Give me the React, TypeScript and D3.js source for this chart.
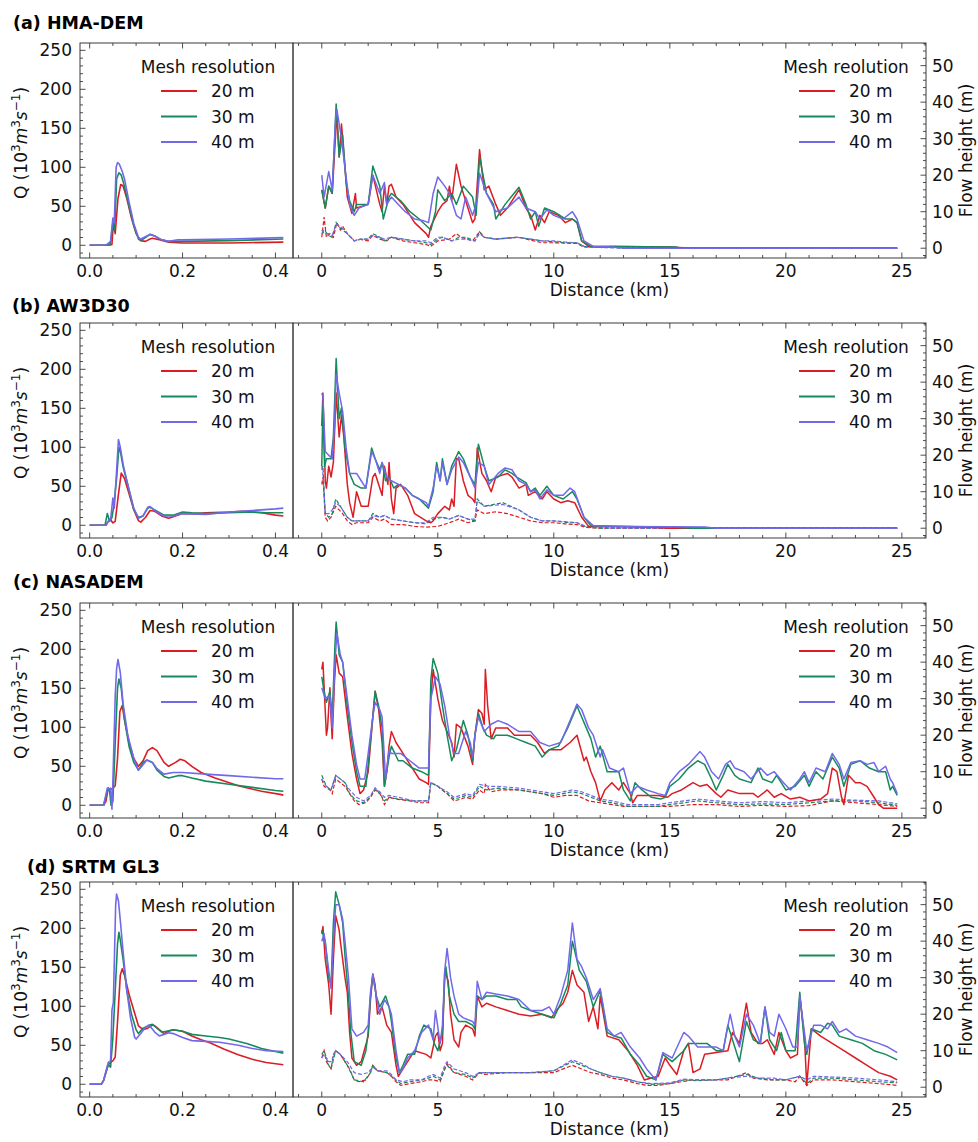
import React from 'react';
import * as d3 from 'd3';

type P = [number, number][];

// ---------- Left panels: Q (10^3 m^3/s) vs x ----------
const aQ20: P = [[0,0],[0.03,0],[0.045,0.5],[0.048,1],[0.051,28],[0.055,15],[0.061,60],[0.067,78],[0.072,76],[0.08,60],[0.09,35],[0.1,15],[0.11,6],[0.12,5],[0.13,8],[0.135,9],[0.15,7],[0.17,4],[0.2,3],[0.3,3],[0.417,4]];
const aQ30: P = [[0,0],[0.035,0],[0.045,2],[0.05,30],[0.054,20],[0.058,85],[0.063,93],[0.068,90],[0.073,80],[0.085,50],[0.095,25],[0.105,8],[0.11,6],[0.12,10],[0.13,14],[0.14,12],[0.155,7],[0.17,5],[0.2,5],[0.3,6],[0.417,8]];
const aQ40: P = [[0,0],[0.035,0],[0.045,5],[0.05,35],[0.053,30],[0.057,100],[0.06,106],[0.064,104],[0.07,95],[0.075,85],[0.085,55],[0.095,28],[0.105,10],[0.11,8],[0.12,11],[0.13,14],[0.14,12],[0.155,7],[0.17,5],[0.19,7],[0.2,7],[0.3,8],[0.417,10]];

const bQ20: P = [[0,0],[0.035,0],[0.04,5],[0.044,8],[0.05,3],[0.055,5],[0.062,40],[0.068,67],[0.075,60],[0.085,40],[0.095,20],[0.105,6],[0.11,4],[0.12,10],[0.13,19],[0.14,18],[0.155,12],[0.17,9],[0.18,11],[0.2,15],[0.23,15],[0.25,16],[0.3,17],[0.33,18],[0.37,16],[0.4,13],[0.417,12]];
const bQ30: P = [[0,0],[0.033,0],[0.038,15],[0.043,5],[0.048,10],[0.052,25],[0.058,60],[0.063,100],[0.066,95],[0.072,75],[0.085,45],[0.095,20],[0.105,10],[0.115,12],[0.125,22],[0.13,23],[0.145,18],[0.16,13],[0.18,13],[0.2,17],[0.22,16],[0.25,15],[0.3,16],[0.35,17],[0.38,16],[0.417,16]];
const bQ40: P = [[0,0],[0.035,0],[0.04,5],[0.045,7],[0.05,35],[0.053,22],[0.058,70],[0.062,110],[0.066,100],[0.073,75],[0.085,45],[0.095,22],[0.105,9],[0.115,12],[0.125,23],[0.13,24],[0.145,17],[0.16,12],[0.18,12],[0.2,15],[0.25,14],[0.3,17],[0.35,19],[0.4,21],[0.417,22]];

const cQ20: P = [[0,0],[0.03,0],[0.035,5],[0.04,22],[0.045,20],[0.05,22],[0.055,25],[0.06,60],[0.065,120],[0.07,128],[0.075,110],[0.085,80],[0.095,60],[0.105,50],[0.115,57],[0.125,70],[0.135,74],[0.145,70],[0.16,55],[0.17,50],[0.185,55],[0.195,59],[0.205,57],[0.22,50],[0.24,42],[0.27,35],[0.32,25],[0.37,18],[0.41,14],[0.417,13]];
const cQ30: P = [[0,0],[0.03,0],[0.04,22],[0.043,18],[0.046,0],[0.05,5],[0.055,80],[0.06,150],[0.063,162],[0.068,150],[0.075,110],[0.085,75],[0.095,55],[0.105,45],[0.115,55],[0.123,58],[0.135,55],[0.145,45],[0.16,37],[0.17,35],[0.19,38],[0.2,38],[0.22,35],[0.25,31],[0.3,27],[0.35,23],[0.4,19],[0.417,18]];
const cQ40: P = [[0,0],[0.03,0],[0.038,22],[0.043,20],[0.045,22],[0.048,-5],[0.05,30],[0.055,140],[0.058,175],[0.061,187],[0.066,170],[0.072,130],[0.082,90],[0.095,60],[0.105,45],[0.115,52],[0.123,58],[0.135,55],[0.145,47],[0.16,40],[0.18,42],[0.2,42],[0.25,40],[0.3,38],[0.35,36],[0.4,34],[0.417,34]];

const dQ20: P = [[0,0],[0.025,0],[0.03,5],[0.04,25],[0.045,28],[0.05,30],[0.055,35],[0.06,80],[0.066,140],[0.07,148],[0.075,140],[0.085,115],[0.095,95],[0.105,75],[0.115,70],[0.125,72],[0.135,76],[0.14,75],[0.15,70],[0.16,65],[0.17,68],[0.18,70],[0.2,68],[0.22,62],[0.24,57],[0.26,53],[0.29,45],[0.32,38],[0.35,32],[0.38,28],[0.417,25]];
const dQ30: P = [[0,0],[0.025,0],[0.03,5],[0.04,25],[0.045,22],[0.05,60],[0.055,120],[0.06,180],[0.063,195],[0.066,185],[0.072,160],[0.08,120],[0.09,90],[0.1,70],[0.105,65],[0.115,72],[0.13,76],[0.135,77],[0.145,72],[0.155,67],[0.165,68],[0.18,70],[0.2,68],[0.22,64],[0.25,62],[0.28,60],[0.3,58],[0.34,52],[0.37,46],[0.4,42],[0.417,40]];
const dQ40: P = [[0,0],[0.025,0],[0.03,5],[0.04,28],[0.045,30],[0.048,95],[0.051,105],[0.054,180],[0.056,230],[0.058,244],[0.062,235],[0.066,210],[0.072,170],[0.08,120],[0.088,85],[0.097,60],[0.1,58],[0.11,65],[0.12,73],[0.128,76],[0.14,67],[0.15,62],[0.16,64],[0.17,66],[0.18,65],[0.2,60],[0.22,56],[0.25,55],[0.28,54],[0.32,50],[0.35,46],[0.38,43],[0.417,42]];

// ---------- Right panels: solid lines vs distance (km), flow-height axis ----------
const aS20: P = [[0,16],[0.15,11],[0.3,17],[0.45,15],[0.65,37],[0.75,25],[0.85,34],[1.0,22],[1.1,14],[1.3,9.5],[1.45,15],[1.5,11],[2.0,12],[2.2,20],[2.5,12],[2.6,10],[2.7,17],[2.8,12],[2.9,17],[3.0,17.5],[3.2,14],[3.5,12],[4.0,7],[4.5,4],[4.6,3],[4.7,6],[5.0,10],[5.2,12],[5.4,13],[5.5,17],[5.6,13],[5.8,23],[6.0,17],[6.2,13],[6.5,7],[6.6,8],[6.8,27],[7.0,16],[7.2,17],[7.5,12],[7.7,9],[8.0,11],[8.5,16],[8.8,11],[9.0,9],[9.2,5],[9.4,9],[9.6,7],[9.8,10],[10.2,9],[10.5,7],[10.8,8],[11.0,7],[11.2,2],[11.5,0.5],[13,0.5],[15,0.3],[16,0],[24.8,0]];
const aS30: P = [[0,16],[0.15,11],[0.3,17],[0.45,15],[0.62,39.5],[0.75,25],[0.9,31],[1.05,18],[1.2,13],[1.4,10],[1.5,12],[2.0,12],[2.2,22.5],[2.5,17],[2.65,8],[2.9,14],[3.0,15],[3.4,13],[3.8,10],[4.2,8],[4.7,5],[4.9,10],[5.0,16],[5.3,13],[5.6,15],[5.8,12],[6.1,17],[6.5,14],[6.65,9],[6.8,25],[7.1,15],[7.4,12],[7.5,8],[7.9,12],[8.5,16.7],[8.8,12],[9.0,8],[9.2,10],[9.35,6],[9.6,11],[10,10],[10.5,8],[10.8,8],[11.0,7],[11.2,2],[11.6,0.5],[12.5,0.5],[15.3,0.3],[15.5,0],[24.8,0]];
const aS40: P = [[0,20],[0.1,14],[0.3,21],[0.45,16],[0.6,36],[0.65,38],[0.85,30],[1.0,22],[1.2,12],[1.4,9],[1.6,11],[2.0,12],[2.2,20],[2.5,15],[2.7,18],[2.8,12],[3.0,14],[3.3,12],[3.6,10],[4.0,8],[4.4,7.5],[4.6,7],[4.8,15],[5.0,19.5],[5.3,17],[5.5,15],[5.8,9],[6.0,8],[6.2,14],[6.5,9],[6.7,13],[6.8,20.5],[7.1,15],[7.5,10],[8.0,11],[8.5,14],[8.8,11],[9.2,10],[9.4,8],[9.7,10.5],[10.0,9],[10.4,8],[10.8,10],[11.0,8],[11.3,2],[11.7,0.5],[12.5,0.3],[13,0],[24.8,0]];
const bS20: P = [[0,28],[0.05,37],[0.15,13],[0.2,11],[0.3,17],[0.4,14],[0.5,18],[0.62,37],[0.75,25],[0.85,31],[0.95,25],[1.1,12],[1.2,7],[1.35,3],[1.5,10],[1.7,6],[2.0,6],[2.2,14],[2.3,15],[2.5,11],[2.6,9],[2.7,17],[2.85,12],[2.9,18],[3.0,8],[3.1,4],[3.2,11],[3.4,12],[3.7,9],[4.0,4],[4.5,2],[4.7,1.5],[4.8,2],[5.0,4],[5.3,6],[5.5,5],[5.6,8],[5.7,6],[5.8,19],[5.9,19],[6.1,13],[6.3,9],[6.5,8],[6.6,7],[6.7,22],[6.9,15],[7.1,13],[7.3,10],[7.5,14],[8.0,15],[8.2,14],[8.5,11],[8.8,12],[8.9,9],[9.2,10],[9.5,8],[9.7,10],[10,8],[10.3,7],[10.6,7.5],[10.9,7],[11.2,3],[11.5,0.5],[13,0.5],[14,0.3],[15,0],[24.8,0]];
const bS30: P = [[0,17],[0.05,34],[0.12,17],[0.2,19],[0.4,19],[0.5,25],[0.62,46.5],[0.75,30],[0.85,33],[1.0,22],[1.2,15],[1.4,12],[1.7,11],[1.9,11],[2.15,22],[2.3,19],[2.5,16],[2.6,18],[2.75,13],[2.9,14],[3.1,11],[3.3,12],[3.6,11],[3.9,9],[4.2,8],[4.6,5.5],[4.8,10],[4.95,18],[5.1,13],[5.2,19],[5.4,12],[5.6,17],[5.9,21],[6.1,19],[6.4,14],[6.6,12],[6.75,23],[7.0,17],[7.2,13],[7.6,14],[7.9,16],[8.2,15],[8.4,14],[8.8,12.5],[9.0,10],[9.2,11],[9.4,9],[9.7,11.5],[10,9],[10.4,8],[10.8,10],[11.0,8],[11.3,3],[11.6,0.7],[13,0.5],[15,0.3],[16,0],[24.8,0]];
const bS40: P = [[0,37],[0.05,36],[0.15,21],[0.3,20],[0.45,19],[0.55,28],[0.62,42],[0.75,37],[0.9,32],[1.05,22],[1.2,15],[1.5,15],[1.7,13],[1.9,11],[2.15,21],[2.3,19],[2.5,15],[2.6,18],[2.8,14],[3.0,13],[3.3,12],[3.6,11],[3.9,9],[4.2,8],[4.5,7],[4.6,6],[4.8,11],[4.95,17],[5.1,13],[5.2,18],[5.4,12],[5.6,16],[5.9,19.5],[6.1,18],[6.4,14],[6.6,11],[6.75,18],[7.0,17],[7.2,12],[7.6,15],[7.9,16.5],[8.2,16],[8.5,13],[8.8,12],[9.0,10],[9.2,10.5],[9.4,8],[9.7,10.5],[10,9],[10.4,9],[10.7,11],[10.9,10],[11.3,3],[11.7,0.7],[13,0.5],[15,0.4],[16.5,0.3],[17,0],[24.8,0]];
const cS20: P = [[0,38],[0.05,40],[0.2,20],[0.25,22],[0.35,33],[0.4,25],[0.45,19],[0.55,35],[0.62,42],[0.75,37],[0.9,36],[1.1,25],[1.3,15],[1.5,8],[1.65,4],[1.8,5],[2.0,10],[2.2,25],[2.3,32],[2.45,27],[2.6,18],[2.7,6],[2.8,10],[2.9,17],[3.0,21],[3.2,18],[3.5,15],[3.8,12],[4.2,8],[4.5,7],[4.6,6.5],[4.7,30],[4.8,38],[5.0,30],[5.2,24],[5.4,21],[5.6,18],[5.7,14],[5.8,23],[6.0,22],[6.3,17],[6.5,12],[6.6,20],[6.75,27],[6.9,26],[7.0,23],[7.05,38],[7.15,28],[7.3,19],[7.5,22],[8.0,22],[8.3,20],[8.6,20],[9,20],[9.3,18],[9.6,15],[9.8,16],[10.3,16],[10.7,18],[11.0,20],[11.3,13],[11.4,14],[11.6,10],[11.8,7],[12.0,2],[12.2,5],[12.5,7],[12.8,5],[13.0,7],[13.3,4],[13.4,1.5],[13.6,3.5],[14.5,3.5],[14.9,3],[15.1,4],[15.5,5],[16.0,7],[16.3,6],[16.6,6.5],[17.0,4],[17.2,3],[17.5,5],[18.0,4],[18.6,4],[18.8,3],[19.2,5],[19.5,3],[19.8,4],[20.2,2.5],[20.6,3],[21.0,2],[21.5,2.5],[21.8,4],[22.0,11],[22.2,10],[22.4,3],[22.5,1],[22.7,9],[23.0,7],[23.2,7],[23.5,6],[23.8,3],[24.0,1],[24.2,0],[24.8,0]];
const cS30: P = [[0,36],[0.1,32],[0.2,29],[0.35,32],[0.45,25],[0.57,45],[0.62,51],[0.75,42],[0.9,40],[1.1,28],[1.3,18],[1.5,10],[1.65,6],[1.9,6],[2.0,12],[2.2,25],[2.3,32],[2.45,28],[2.6,22],[2.7,6],[2.9,14],[3.0,17],[3.3,13],[3.5,13],[3.9,11],[4.3,10],[4.6,9],[4.7,35],[4.8,41],[5.0,37],[5.2,28],[5.4,20],[5.6,13],[5.8,16],[6.1,24],[6.3,20],[6.5,13],[6.6,20],[6.75,26],[6.95,22],[7.1,20],[7.4,19],[7.5,20],[8.0,20],[8.4,19],[8.8,18],[9.2,17],[9.5,14],[9.8,16],[10.2,17],[10.6,22],[11.0,28],[11.2,25],[11.4,22],[11.6,19],[11.8,14],[12.0,17],[12.3,10],[12.6,10],[12.8,10],[13.0,5],[13.3,2],[13.5,7],[13.8,5],[14.2,3],[14.6,2.5],[14.8,3],[15.0,6],[15.4,8],[15.8,11],[16.2,13],[16.5,12],[16.8,8],[17.0,5],[17.3,9],[17.5,12],[17.8,9],[18.0,8],[18.5,7],[18.8,11],[19.0,8],[19.4,7],[19.6,9],[20.0,5],[20.4,6],[20.8,9],[21.0,6],[21.3,10],[21.6,8],[22.0,14],[22.3,11],[22.5,6],[22.8,12],[23.2,13],[23.6,11],[24.0,10],[24.3,10],[24.5,5],[24.6,6],[24.8,3.5]];
const cS40: P = [[0,33],[0.15,30],[0.35,31],[0.45,22],[0.57,40],[0.65,48],[0.8,42],[0.9,40],[1.1,30],[1.3,20],[1.5,12],[1.65,8],[1.85,8],[2.0,15],[2.2,25],[2.3,29],[2.5,27],[2.6,25],[2.75,8],[2.9,16],[3.0,15],[3.4,15],[3.8,13],[4.2,11],[4.6,11],[4.7,30],[4.9,36],[5.1,34],[5.3,28],[5.5,20],[5.7,15],[5.9,15],[6.2,21],[6.4,18],[6.5,14],[6.6,20],[6.75,25],[7.0,21],[7.3,23],[7.6,24],[8.0,23],[8.5,21],[9,21],[9.4,18],[9.8,17],[10.3,18],[10.7,24],[11.0,28.5],[11.2,27],[11.5,22],[11.7,20],[12.0,14],[12.1,16],[12.4,11],[12.8,10],[13.0,11],[13.3,4],[13.6,6],[14.0,5],[14.5,4],[14.8,3.5],[15.0,7],[15.4,10],[15.8,12],[16.3,15.5],[16.5,14],[16.8,10],[17.1,8],[17.4,12],[17.6,13],[17.8,11],[18.2,10],[18.5,8],[18.9,11],[19.2,9],[19.5,10],[19.9,7],[20.2,5],[20.6,8],[20.8,10],[21.0,7],[21.3,11],[21.7,10],[22.0,15],[22.3,12],[22.5,8],[22.8,12.5],[23.2,13],[23.5,12],[23.8,12.5],[24.0,10],[24.3,11.5],[24.5,8],[24.6,7],[24.8,4]];
const dS20: P = [[0,42],[0.05,44],[0.15,35],[0.3,28],[0.4,20],[0.5,35],[0.6,47],[0.75,43],[0.8,40],[1.0,30],[1.1,26],[1.2,15],[1.3,8],[1.5,6],[1.7,7],[2.0,14],[2.1,24],[2.2,31],[2.3,28],[2.4,20],[2.6,22],[2.8,17],[3.0,15],[3.2,6],[3.3,3],[3.5,5],[3.7,7],[4.0,10],[4.5,9],[4.7,8],[4.9,14],[5.0,15],[5.1,10],[5.2,12],[5.3,32],[5.45,29],[5.55,20],[5.7,13],[5.9,11],[6.0,15],[6.2,17],[6.5,16],[6.6,14],[6.7,25],[6.9,22],[7.1,23],[7.5,22],[8.0,21],[8.5,20],[9.0,19.5],[9.5,20],[9.9,19],[10.1,21],[10.4,23],[10.6,26],[10.8,32],[11.0,28],[11.3,26],[11.5,18],[11.7,22],[11.9,16],[12.0,25],[12.3,14],[12.8,13],[13.2,10],[13.6,6],[13.9,2],[14.2,2.5],[14.5,3],[14.8,8],[15.0,6],[15.3,3.5],[15.6,10],[15.8,12],[16.0,4],[16.3,5],[16.5,9],[17.0,9.5],[17.5,10],[17.7,15],[18.0,12],[18.3,23],[18.5,15],[18.8,12],[19.0,12],[19.2,13],[19.5,9],[19.7,15],[20.0,10],[20.2,8],[20.5,9],[20.6,25],[20.8,14],[20.9,0.5],[21.1,16],[21.5,14],[22.0,12],[22.5,10],[23.0,8],[23.5,6],[24.0,4],[24.5,3],[24.8,2]];
const dS30: P = [[0,43],[0.15,40],[0.3,30],[0.4,28],[0.5,45],[0.6,53.5],[0.75,50],[0.9,45],[1.0,36],[1.15,25],[1.25,15],[1.4,7],[1.7,6],[1.9,10],[2.0,15],[2.1,25],[2.2,30.5],[2.35,25],[2.5,22],[2.75,25],[2.9,22],[3.0,18],[3.2,8],[3.35,4],[3.5,6],[3.7,9],[4.0,9],[4.2,14],[4.4,17],[4.7,16],[4.85,12],[5.0,10],[5.2,15],[5.3,30],[5.35,33],[5.5,25],[5.7,20],[5.9,18],[6.2,18],[6.5,17],[6.6,16],[6.7,25],[6.9,24],[7.1,25],[7.5,25],[8.0,24],[8.4,24],[8.6,22],[9.0,21],[9.5,20],[10.0,19],[10.3,23],[10.6,28],[10.8,40],[11.1,32],[11.4,29],[11.7,22],[12.0,26.5],[12.3,15],[12.6,14],[12.9,13.5],[13.3,9],[13.7,6],[14.0,3],[14.4,2],[14.7,9],[15.1,7],[15.6,10],[15.8,12],[16.2,12],[16.6,12],[17.0,10],[17.3,10],[17.5,17],[17.7,13],[18.0,7],[18.3,18],[18.6,13],[18.9,12],[19.1,22],[19.3,13],[19.6,10],[19.8,15],[20.0,10],[20.4,10],[20.6,26],[20.8,12],[20.9,9],[21.1,16],[21.5,15],[21.8,17.5],[22.0,17],[22.3,14],[22.8,13],[23.3,12],[23.8,10],[24.3,9],[24.8,7.5]];
const dS40: P = [[0,40],[0.1,42],[0.3,32],[0.4,27],[0.5,40],[0.6,50],[0.75,50],[0.9,46],[1.0,40],[1.15,30],[1.3,16],[1.5,14],[1.8,15],[2.0,17],[2.1,26],[2.2,31],[2.35,25],[2.5,20],[2.7,24],[2.9,22],[3.0,20],[3.2,10],[3.35,4],[3.5,5],[3.7,8],[4.0,10],[4.3,15],[4.6,17],[4.8,13],[4.9,21],[5.1,12],[5.2,17],[5.3,32],[5.4,38],[5.55,30],[5.7,25],[5.9,20],[6.1,19],[6.5,18],[6.6,17],[6.7,29],[6.9,24],[7.1,26],[7.5,25.5],[8.0,25],[8.5,24],[9.0,21],[9.5,21],[9.8,22],[10.0,20],[10.3,25],[10.6,32],[10.8,45],[11.0,35],[11.2,33],[11.4,30],[11.7,24],[12.0,27],[12.3,16],[12.6,14],[12.9,15],[13.3,11],[13.7,8],[14.0,5],[14.4,2],[14.7,9.5],[15.1,8],[15.6,15],[15.8,14],[16.2,11],[16.6,11],[17.0,11],[17.3,10],[17.6,20],[17.8,14],[18.0,11],[18.3,20],[18.6,17],[18.9,12],[19.1,22],[19.3,15],[19.5,14],[19.7,20],[20.0,16],[20.3,11],[20.5,11],[20.6,25],[20.8,15],[20.9,10],[21.2,17],[21.5,17],[21.8,16],[22.0,18],[22.3,15],[22.6,16],[23.0,14],[23.5,13],[24.0,12],[24.4,11],[24.8,9.5]];

// ---------- Right panels: dashed lines (flow height, m) ----------
const aD20: P = [[0,3],[0.1,8.5],[0.2,3],[0.35,4],[0.5,3],[0.65,7],[0.8,5],[0.9,6],[1.1,4],[1.4,2],[1.6,2.5],[2.0,2],[2.2,3.5],[2.5,2.5],[2.8,2],[3.0,3],[3.5,2],[4.0,1.5],[4.5,1],[4.7,0.5],[5.0,2],[5.5,2.5],[5.8,4],[6.0,3],[6.5,2],[6.8,4.5],[7.0,3],[7.5,2.5],[8.5,3],[9,2.2],[9.5,1.5],[10,1.5],[10.5,1.4],[11,1.3],[11.3,0.3],[12.5,0.5],[14,0.3],[15,0.2],[16,0],[24.8,0]];
const aD30: P = [[0,4],[0.1,5],[0.3,3.5],[0.45,3],[0.62,7],[0.8,5.5],[1.1,4],[1.4,2],[1.7,2.5],[2.0,2.5],[2.2,4],[2.5,3],[2.7,2],[3.0,3],[3.5,2.5],[4.0,2],[4.5,1.5],[4.7,1],[5.0,2.5],[5.2,3],[5.6,2],[5.9,3],[6.2,3],[6.6,2],[6.8,4.5],[7.0,3],[7.5,2.5],[8.4,3],[9,2.5],[9.5,2],[10,1.8],[10.5,1.5],[11,1.5],[11.3,0.5],[12,0.3],[14,0.3],[15.5,0],[24.8,0]];
const aD40: P = [[0,5],[0.1,4],[0.3,4],[0.45,3.5],[0.62,6.5],[0.8,6],[1.1,4],[1.4,2],[1.7,2.5],[2.0,2.5],[2.2,3.5],[2.5,3],[2.7,2.5],[3.0,3],[3.5,2.5],[4.0,2],[4.5,2],[4.7,1.5],[5.0,3],[5.2,3],[5.6,2],[5.9,2.5],[6.2,2.5],[6.6,2],[6.8,4],[7.0,3],[7.5,2.5],[8.4,3],[9,2.5],[9.5,2],[10,2],[10.5,1.7],[11,1.5],[11.3,0.5],[12,0.2],[13,0],[24.8,0]];
const bD20: P = [[0,12],[0.05,14],[0.15,3],[0.25,2],[0.4,3],[0.6,6],[0.75,5],[0.9,4],[1.1,2],[1.3,1],[1.5,1.5],[2.0,1.5],[2.2,3],[2.5,2],[2.7,2.5],[3.0,1],[3.5,1],[4.0,0.5],[4.5,0.3],[5.0,0.5],[5.5,1.5],[5.9,2.5],[6.3,1.5],[6.6,2],[6.7,5],[7.0,4],[7.5,4.5],[8.0,4],[8.5,3],[9.0,2],[9.5,1.5],[10,1.5],[10.5,1.2],[11,1],[11.4,0.2],[12,0],[24.8,0]];
const bD30: P = [[0,16],[0.05,17],[0.15,4],[0.3,3],[0.45,4],[0.6,8],[0.8,6],[1.1,3],[1.3,2],[2.0,2],[2.2,4],[2.5,3],[2.7,3.5],[3.0,2.5],[3.5,2],[4.0,1.5],[4.5,1.2],[4.8,2.5],[5.2,3],[5.5,2.5],[5.9,3.5],[6.3,2.5],[6.6,2],[6.7,8],[7.0,6],[7.8,7],[8.5,5],[9.0,3],[9.5,2],[10,2],[10.5,1.6],[11,1.5],[11.4,0.3],[12,0],[24.8,0]];
const bD40: P = [[0,17],[0.05,15],[0.15,4],[0.3,4],[0.45,5],[0.6,7],[0.8,6],[1.1,3],[1.3,2],[2.0,2],[2.2,3.5],[2.5,3],[2.7,3.5],[3.0,2.5],[3.5,2],[4.0,1.5],[4.5,1.5],[4.8,3],[5.2,3],[5.5,2.5],[5.9,3.5],[6.3,2.5],[6.6,2.5],[6.7,7.5],[7.0,6],[7.8,6.5],[8.5,5],[9,3],[9.5,2],[10,2],[10.5,1.8],[11,1.5],[11.4,0.5],[12,0.2],[12.5,0],[24.8,0]];
const cD20: P = [[0,8],[0.1,6],[0.35,5],[0.45,4],[0.6,8],[0.8,7],[1.0,6],[1.2,4],[1.4,2],[1.6,1],[1.9,1.5],[2.1,3],[2.3,5],[2.5,4],[2.6,3],[2.7,1],[2.9,3],[3.2,2.5],[3.8,2],[4.2,1.5],[4.6,1.5],[4.7,7],[5.0,6],[5.4,4],[5.7,2],[6.0,2.5],[6.2,3],[6.5,2.5],[6.8,5],[7.0,4],[7.05,6.5],[7.3,4.5],[7.7,5],[8.5,5],[9.5,4],[10.0,3],[10.5,3.5],[11,3.5],[11.5,2],[12,1.5],[13,0.5],[14,0.5],[15,0.5],[16,1],[17,1],[18,0.5],[19,0.8],[20,0.5],[21,0.7],[22,2],[23,1.5],[24,1],[24.8,0.5]];
const cD30: P = [[0,9],[0.2,6],[0.4,5],[0.6,9],[0.8,8],[1.0,7],[1.2,4],[1.5,2],[1.8,1.5],[2.1,3],[2.3,5.5],[2.5,4],[2.7,2],[2.9,3],[3.3,2.5],[4.0,2],[4.6,2],[4.7,7],[5.0,6],[5.4,4],[5.7,2.5],[6.0,3],[6.2,3.5],[6.5,3],[6.8,6],[7.1,5],[7.6,5.5],[8.5,5],[9.5,4],[10,3.5],[10.8,4.5],[11.2,4],[12,2],[12.5,1.5],[13.2,0.5],[14.5,0.5],[15,1],[16.2,2],[17,1.5],[18,1],[19,1.2],[20,1],[21,1.5],[22,2],[23,2],[24,1.5],[24.8,0.8]];
const cD40: P = [[0,8],[0.2,6],[0.4,5],[0.6,9],[0.8,8],[1.0,7],[1.2,5],[1.5,3],[1.8,2],[2.1,3.5],[2.3,5.5],[2.5,4.5],[2.7,3],[2.9,3.5],[3.3,3],[4.0,2],[4.6,2],[4.7,7],[5.0,6],[5.4,4.5],[5.7,3],[6.0,3.5],[6.2,4],[6.5,3.5],[6.8,6.5],[7.2,6],[7.6,6],[8.5,5.5],[9.5,4.5],[10,4],[10.8,5],[11.2,4.5],[12,2.5],[12.5,2],[13.2,1],[14.5,1],[15,1.5],[16.2,2.5],[17,2],[18,1.5],[19,1.8],[20,1.5],[21,2],[22,2.5],[23,2.2],[24,2],[24.8,1.2]];
const dD20: P = [[0,8],[0.1,10],[0.2,7],[0.4,5],[0.5,9],[0.6,10],[0.8,9],[1.0,7],[1.2,5],[1.4,2],[1.6,1.5],[1.9,2],[2.1,4],[2.2,6],[2.4,4.5],[2.8,4],[3.0,3],[3.2,1.5],[3.4,0.5],[3.8,1],[4.3,1.5],[4.6,2],[4.8,2],[5.1,1.5],[5.3,5],[5.4,6.5],[5.7,4],[6.2,3],[6.5,2],[6.8,4],[7.0,3.5],[8,4],[9,4],[10,4],[10.8,6],[11.2,5],[11.6,4],[12.0,3.5],[12.5,2.5],[13,2],[13.6,1],[14,0.5],[14.5,0.5],[15,1],[15.5,1.5],[16,2],[17,2],[17.5,2],[18.3,4],[18.6,2.5],[19.2,2],[20,2],[20.4,1.5],[20.6,3],[20.9,0.5],[21.2,2],[22,2],[23,1.5],[24,1],[24.8,0.5]];
const dD30: P = [[0,9],[0.1,10],[0.3,6],[0.4,5],[0.6,10],[0.8,9],[1.1,6],[1.4,2],[1.8,1.5],[2.1,4],[2.2,6],[2.4,4.5],[2.8,4],[3.0,3],[3.2,2],[3.4,1],[3.8,1.5],[4.3,2],[4.6,2.5],[4.8,3],[5.1,2],[5.3,5],[5.4,6],[5.7,4],[6.2,3.5],[6.5,2.5],[6.8,4],[7.5,4],[9,4],[10,4.5],[10.8,7],[11.2,6],[11.6,5],[12,4],[12.5,3],[13,2.5],[13.6,1.5],[14.2,0.8],[15,1],[15.6,2],[16.2,1.8],[17,2],[17.5,2.5],[18.3,3.5],[18.8,2.5],[19.5,2],[20,2],[20.6,3],[20.9,1],[21.2,2.5],[22,2.5],[23,2],[24,1.5],[24.8,1.2]];
const dD40: P = [[0,8],[0.1,9],[0.3,7],[0.4,7],[0.6,10],[0.8,9],[1.1,7],[1.4,4],[1.7,3.5],[2.0,4],[2.2,5.5],[2.4,4.5],[2.8,4.5],[3.0,3.5],[3.2,2],[3.5,1.5],[3.8,2],[4.3,2],[4.6,3],[4.8,3.5],[5.1,2.5],[5.3,6],[5.4,7],[5.7,5],[6.2,4],[6.5,3],[6.8,4],[7.5,4],[9,4],[10,4.5],[10.8,7.5],[11.2,6.5],[11.6,5],[12,4],[12.5,3],[13,2.5],[13.6,1.5],[14.2,1],[15,1.2],[15.6,2.2],[16.2,2],[17,2],[17.5,2.5],[18.3,3],[18.8,2.5],[19.5,2.5],[20,2],[20.6,3],[20.9,2],[21.2,3],[22,2.8],[23,2.5],[24,2],[24.8,1.5]];

const titles = ['(a) HMA-DEM', '(b) AW3D30', '(c) NASADEM', '(d) SRTM GL3'];
const meshLabels = ['20 m', '30 m', '40 m'];
const qTicks = [0, 50, 100, 150, 200, 250];
const xLeftTicks = [0, 0.2, 0.4];
const xRightTicks = [0, 5, 10, 15, 20, 25];
const hTicks = [0, 10, 20, 30, 40, 50];

const rows = [
  { q: [aQ20, aQ30, aQ40], s: [aS20, aS30, aS40], d: [aD20, aD30, aD40] },
  { q: [bQ20, bQ30, bQ40], s: [bS20, bS30, bS40], d: [bD20, bD30, bD40] },
  { q: [cQ20, cQ30, cQ40], s: [cS20, cS30, cS40], d: [cD20, cD30, cD40] },
  { q: [dQ20, dQ30, dQ40], s: [dS20, dS30, dS40], d: [dD20, dD30, dD40] },
];

// ---------- layout / style ----------
const COLORS = ['#dc1c24', '#168a5c', '#7268ea'];
const FONT = 'DejaVu Sans, sans-serif';
const L0 = 80, L1 = 293, R1 = 926, H = 215;
const TOPS = [43, 323, 603, 882];
const TITLE_POS = [[13, 29], [12, 312], [13, 588], [27, 873]];
const SPINE = '#3a3a3a';

function Row({ idx }: { idx: number }) {
  const top = TOPS[idx];
  const bot = top + H;
  const row = rows[idx];
  const xl = d3.scaleLinear().domain([-0.0208, 0.4378]).range([L0, L1]);
  const xr = d3.scaleLinear().domain([-1.24, 26.04]).range([L1, R1]);
  const yq = d3.scaleLinear().domain([-16.3, 259.4]).range([bot, top]);
  const yh = d3.scaleLinear().domain([-2.68, 56.2]).range([bot, top]);
  const lineL = d3.line<[number, number]>().x(d => xl(d[0])).y(d => yq(d[1]));
  const lineR = d3.line<[number, number]>().x(d => xr(d[0])).y(d => yh(d[1]));

  const qMinor = d3.range(-10, 260, 10).filter(v => v % 50 !== 0);
  const xlMinor = d3.range(0, 0.44, 0.05).filter(v => Math.abs(v / 0.2 - Math.round(v / 0.2)) > 1e-6);
  const xrMinor = d3.range(-1, 27, 1).filter(v => v % 5 !== 0);
  const hMinor = d3.range(-2, 57, 2).filter(v => v % 10 !== 0);

  const tk = (key: string, x1: number, y1: number, x2: number, y2: number) => (
    <line key={key} x1={x1} y1={y1} x2={x2} y2={y2} stroke={SPINE} strokeWidth={0.9} />
  );
  const MAJ = 5.5, MIN = 3;

  const legend = (x0: number, title: string, titleCx: number) => (
    <g fontFamily={FONT} fontSize={17} fill="#111">
      <text x={titleCx} y={top + 30} textAnchor="middle">{title}</text>
      {meshLabels.map((lab, i) => {
        const cy = top + 48 + i * 25.5;
        return (
          <g key={lab}>
            <line x1={x0} x2={x0 + 36} y1={cy} y2={cy} stroke={COLORS[i]} strokeWidth={1.8} />
            <text x={x0 + 50} y={cy + 6}>{lab}</text>
          </g>
        );
      })}
    </g>
  );

  return (
    <g>
      <text x={TITLE_POS[idx][0]} y={TITLE_POS[idx][1]} fontFamily="DejaVu Sans, sans-serif" fontWeight="bold" fontSize={17.5} fill="#000">{titles[idx]}</text>

      <defs>
        <clipPath id={`cl${idx}`}><rect x={L0} y={top} width={L1 - L0} height={H} /></clipPath>
        <clipPath id={`cr${idx}`}><rect x={L1} y={top} width={R1 - L1} height={H} /></clipPath>
      </defs>
      <g clipPath={`url(#cl${idx})`}>
        {row.q.map((s, i) => (
          <path key={i} d={lineL(s) || ''} fill="none" stroke={COLORS[i]} strokeWidth={1.6} strokeLinejoin="round" />
        ))}
      </g>
      <g clipPath={`url(#cr${idx})`}>
        {row.d.map((s, i) => (
          <path key={'d' + i} d={lineR(s) || ''} fill="none" stroke={COLORS[i]} strokeWidth={1.2} strokeDasharray="4,2" />
        ))}
        {row.s.map((s, i) => (
          <path key={'s' + i} d={lineR(s) || ''} fill="none" stroke={COLORS[i]} strokeWidth={1.5} strokeLinejoin="round" />
        ))}
      </g>

      <rect x={L0} y={top} width={L1 - L0} height={H} fill="none" stroke={SPINE} strokeWidth={1} />
      <rect x={L1} y={top} width={R1 - L1} height={H} fill="none" stroke={SPINE} strokeWidth={1} />

      {qTicks.map(v => tk('qM' + v, L0, yq(v), L0 + MAJ, yq(v)))}
      {qMinor.map(v => tk('qm' + v, L0, yq(v), L0 + MIN, yq(v)))}
      {xLeftTicks.map(v => [tk('xlb' + v, xl(v), bot, xl(v), bot - MAJ), tk('xlt' + v, xl(v), top, xl(v), top + MAJ)])}
      {xlMinor.map(v => [tk('xlbm' + v, xl(v), bot, xl(v), bot - MIN), tk('xltm' + v, xl(v), top, xl(v), top + MIN)])}
      {xRightTicks.map(v => [tk('xrb' + v, xr(v), bot, xr(v), bot - MAJ), tk('xrt' + v, xr(v), top, xr(v), top + MAJ)])}
      {xrMinor.map(v => [tk('xrbm' + v, xr(v), bot, xr(v), bot - MIN), tk('xrtm' + v, xr(v), top, xr(v), top + MIN)])}
      {hTicks.map(v => tk('hM' + v, R1, yh(v), R1 - MAJ, yh(v)))}
      {hMinor.map(v => tk('hm' + v, R1, yh(v), R1 - MIN, yh(v)))}

      <g fontFamily={FONT} fontSize={17} fill="#111">
        {qTicks.map(v => <text key={'ql' + v} x={72} y={yq(v) + 6} textAnchor="end">{v}</text>)}
        {xLeftTicks.map(v => <text key={'xll' + v} x={xl(v)} y={bot + 19} textAnchor="middle">{v.toFixed(1)}</text>)}
        {xRightTicks.map(v => <text key={'xrl' + v} x={xr(v)} y={bot + 19} textAnchor="middle">{v}</text>)}
        {hTicks.map(v => <text key={'hl' + v} x={R1 + 6} y={yh(v) + 6}>{v}</text>)}
        <text x={(L1 + R1) / 2} y={bot + 38} textAnchor="middle">Distance (km)</text>
        <text transform={`translate(27, ${top + 100}) rotate(-90)`} textAnchor="middle">
          Q (10<tspan dy={-7} fontSize={12}>3</tspan><tspan dy={7} fontStyle="italic">m</tspan><tspan dy={-7} fontSize={12}>3</tspan><tspan dy={7} fontStyle="italic">s</tspan><tspan dy={-7} fontSize={12}>−1</tspan><tspan dy={7}>)</tspan>
        </text>
        <text transform={`translate(972, ${top + H / 2}) rotate(-90)`} textAnchor="middle">Flow height (m)</text>
      </g>

      {legend(161, 'Mesh resolution', 208)}
      {legend(799, 'Mesh reolution', 846)}
    </g>
  );
}

export default function App() {
  return (
    <svg width={978} height={1142} viewBox="0 0 978 1142"
      style={{ display: 'block', position: 'absolute', left: 0, top: 0, background: '#fff' }}>
      <rect x={0} y={0} width={978} height={1142} fill="#fff" />
      {rows.map((_, i) => <Row key={i} idx={i} />)}
    </svg>
  );
}
